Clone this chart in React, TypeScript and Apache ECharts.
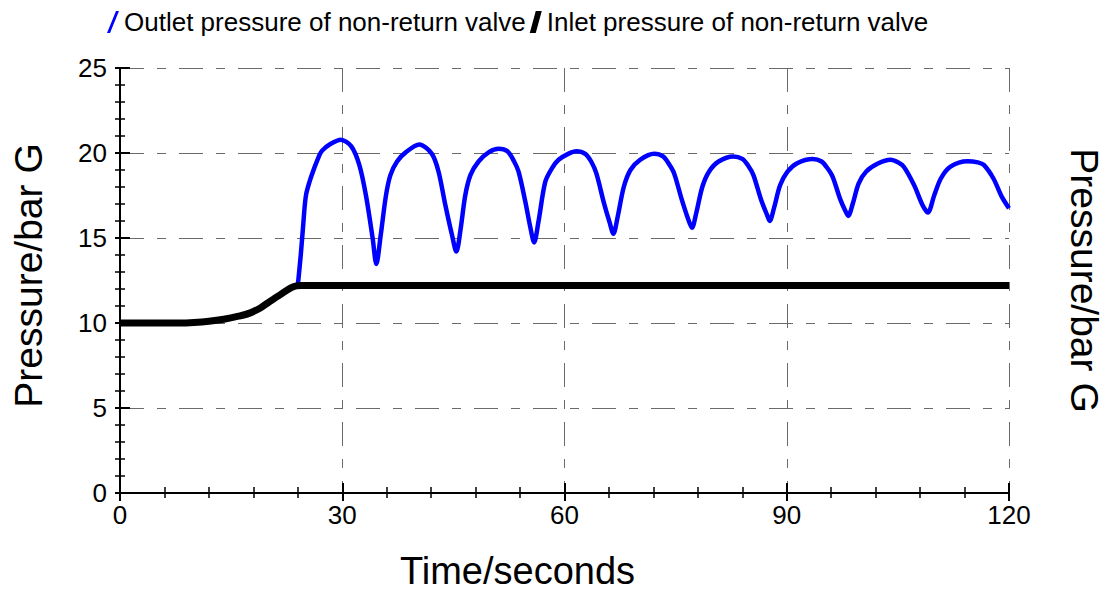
import React, { useEffect, useRef } from "react";
import * as echarts from "echarts";

const outletName = "Outlet pressure of non-return valve";
const inletName = "Inlet pressure of non-return valve";

const xTicks = [0, 30, 60, 90, 120];
const yTicks = [0, 5, 10, 15, 20, 25];

const inletData: number[][] = [
  [0, 10], [5, 10], [8, 10], [10, 10.03], [12, 10.1], [14, 10.22], [16, 10.4], [17.5, 10.58],
  [19, 10.9], [20.2, 11.26], [21.9, 11.74], [23, 12.05], [23.8, 12.18], [24.5, 12.2],
  [60, 12.2], [120, 12.2],
];

const outletData: number[][] = [
  [24.0, 12.2], [24.4, 14], [24.7, 15.6], [25.1, 17.5], [25.8, 18.6], [26.9, 19.86],
  [27.3, 20.15], [28.3, 20.5], [29.8, 20.78], [31.2, 20.4], [32.3, 19.3], [33.2, 17.5],
  [34.1, 15.0], [34.6, 13.47], [35.2, 15.2], [35.9, 17.5], [36.5, 18.7], [37.4, 19.5],
  [38.6, 20.05], [40.4, 20.5], [42.1, 19.95], [43.0, 18.9], [43.9, 16.97], [44.8, 15.2],
  [45.4, 14.2], [46.0, 15.6], [46.6, 17.5], [47.3, 18.7], [48.4, 19.5], [49.8, 20.05],
  [51.1, 20.25], [52.3, 20.1], [53.2, 19.5], [53.8, 18.9], [54.7, 17.16], [55.4, 15.6], [55.9, 14.74],
  [56.5, 16.0], [57.4, 18.3], [58.3, 19.1], [59.2, 19.6], [60.5, 19.95], [61.6, 20.1],
  [62.8, 19.95], [63.6, 19.5], [64.3, 18.8], [65.3, 17.1], [66.1, 15.9], [66.6, 15.25], [67.2, 16.3],
  [68.0, 18.0], [68.9, 19.0], [70.2, 19.6], [72.1, 19.95], [73.3, 19.8], [74.1, 19.35], [74.8, 18.8],
  [75.8, 17.3], [76.7, 16.1], [77.2, 15.6], [77.8, 16.5], [78.6, 18.0], [79.5, 18.9],
  [80.8, 19.5], [82.8, 19.8], [84.0, 19.65], [84.8, 19.25], [85.5, 18.7], [86.5, 17.3], [87.3, 16.4],
  [87.7, 16.0], [88.3, 16.8], [89.1, 18.1], [90.1, 18.9], [91.4, 19.4], [93.5, 19.65],
  [94.7, 19.5], [95.5, 19.1], [96.2, 18.6], [97.2, 17.3], [97.9, 16.6], [98.3, 16.3], [98.9, 17.0],
  [99.7, 18.2], [100.7, 18.9], [102.3, 19.38], [104.0, 19.6], [105.0, 19.45], [105.8, 19.19], [107.2, 18.1],
  [108.3, 16.96], [109.05, 16.5], [109.9, 17.5], [110.8, 18.5], [112.1, 19.2], [114.4, 19.52],
  [115.8, 19.45], [116.6, 19.3], [117.9, 18.5], [119.0, 17.45], [120, 16.75],
];

const FONT = "'Liberation Sans', Arial, sans-serif";
const gridLine = { color: "#6a6a6a", width: 1, type: [24, 13, 9, 13] as number[] };

export default function App() {
  const ref = useRef<HTMLDivElement>(null);
  useEffect(() => {
    if (!ref.current) return;
    const chart = echarts.init(ref.current, null, { renderer: "svg" });
    const xMin = xTicks[0];
    const xMax = xTicks[xTicks.length - 1];
    const xInt = xTicks[1] - xTicks[0];
    const yMin = yTicks[0];
    const yMax = yTicks[yTicks.length - 1];
    const yInt = yTicks[1] - yTicks[0];
    chart.setOption({
      animation: false,
      backgroundColor: "#ffffff",
      textStyle: { fontFamily: FONT },
      legend: {
        top: 4,
        left: 102,
        itemGap: 4,
        itemWidth: 12,
        itemHeight: 22,
        textStyle: { fontSize: 26, color: "#000", fontFamily: FONT },
        data: [
          { name: outletName, icon: "path://M9,0 L12,0 L3,22 L0,22 Z" },
          { name: inletName, icon: "path://M6,0 L12,0 L6,22 L0,22 Z" },
        ],
      },
      grid: { left: 120, right: 100, top: 68, bottom: 96 },
      xAxis: [
        {
          type: "value",
          min: xMin,
          max: xMax,
          interval: xInt,
          position: "bottom",
          name: "Time/seconds",
          nameLocation: "middle",
          nameGap: 59,
          nameTextStyle: { fontSize: 38, color: "#000", fontFamily: FONT, padding: [0, 94, 0, 0] },
          axisLine: { show: true, lineStyle: { color: "#000", width: 2 } },
          axisTick: { show: true, inside: true, length: 10, lineStyle: { color: "#000", width: 2 } },
          minorTick: { show: true, splitNumber: 5, length: 6, lineStyle: { color: "#000", width: 1.5 } },
          axisLabel: { show: true, fontSize: 26, color: "#000", margin: 9, fontFamily: FONT },
          splitLine: { show: true, lineStyle: gridLine },
        },
        {
          type: "value",
          min: xMin,
          max: xMax,
          interval: xInt,
          position: "bottom",
          axisLine: { show: false },
          axisTick: { show: true, inside: false, length: 8, lineStyle: { color: "#000", width: 2 } },
          minorTick: { show: true, splitNumber: 5, length: 5, lineStyle: { color: "#000", width: 1.5 } },
          axisLabel: { show: false },
          splitLine: { show: false },
        },
      ],
      yAxis: [
        {
          type: "value",
          min: yMin,
          max: yMax,
          interval: yInt,
          position: "left",
          name: "Pressure/bar G",
          nameLocation: "middle",
          nameRotate: 90,
          nameGap: 72,
          nameTextStyle: { fontSize: 39, color: "#000", fontFamily: FONT, padding: [0, 0, 0, 10] },
          axisLine: { show: true, lineStyle: { color: "#000", width: 2 } },
          axisTick: { show: true, inside: true, length: 10, lineStyle: { color: "#000", width: 2 } },
          minorTick: { show: true, splitNumber: 5, length: 5, lineStyle: { color: "#000", width: 1.5 } },
          axisLabel: { show: true, fontSize: 26, color: "#000", margin: 13, fontFamily: FONT },
          splitLine: { show: true, lineStyle: gridLine },
        },
        {
          type: "value",
          min: yMin,
          max: yMax,
          interval: yInt,
          position: "left",
          axisLine: { show: false },
          axisTick: { show: true, inside: false, length: 5, lineStyle: { color: "#000", width: 2 } },
          minorTick: { show: true, splitNumber: 5, length: 5, lineStyle: { color: "#000", width: 1.5 } },
          axisLabel: { show: false },
          splitLine: { show: false },
        },
        {
          type: "value",
          min: yMin,
          max: yMax,
          interval: yInt,
          position: "right",
          name: "Pressure/bar G",
          nameLocation: "middle",
          nameRotate: -90,
          nameGap: 56,
          nameTextStyle: { fontSize: 39, color: "#000", fontFamily: FONT },
          axisLine: { show: false },
          axisTick: { show: false },
          axisLabel: { show: false },
          splitLine: { show: false },
        },
      ],
      series: [
        {
          name: outletName,
          type: "line",
          xAxisIndex: 0,
          yAxisIndex: 0,
          data: outletData,
          showSymbol: false,
          symbol: "none",
          smooth: 0.3,
          lineStyle: { color: "#0000ff", width: 4.5 },
          itemStyle: { color: "#0000ff" },
          z: 3,
        },
        {
          name: inletName,
          type: "line",
          xAxisIndex: 0,
          yAxisIndex: 0,
          data: inletData,
          showSymbol: false,
          symbol: "none",
          smooth: 0.3,
          lineStyle: { color: "#000000", width: 7 },
          itemStyle: { color: "#000000" },
          z: 4,
        },
      ],
    });
    return () => chart.dispose();
  }, []);
  return (
    <div
      ref={ref}
      style={{ position: "fixed", left: 0, top: 0, width: 1112, height: 595, background: "#fff" }}
    />
  );
}
